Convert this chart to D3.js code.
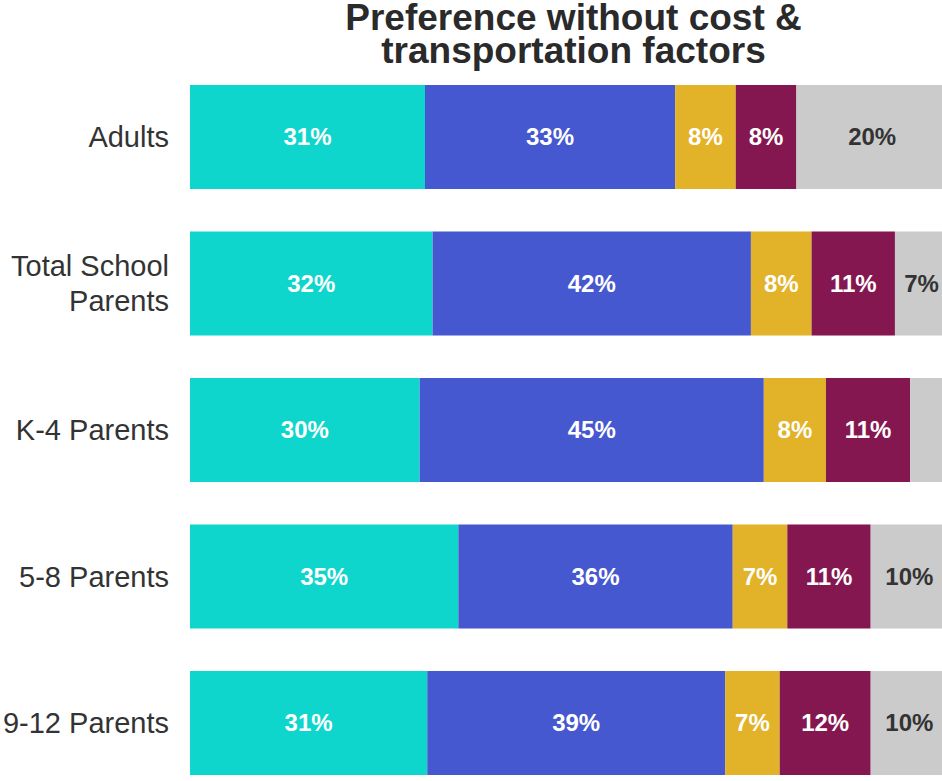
<!DOCTYPE html>
<html><head><meta charset="utf-8">
<script src="https://cdn.jsdelivr.net/npm/d3@7"></script>
<style>
html,body{margin:0;padding:0;background:#fff;overflow:hidden;}
svg{display:block;font-family:"Liberation Sans",Arial,sans-serif;}
</style></head>
<body>
<svg id="chart" width="942" height="781"></svg>
<script>
const categories = ["Adults", "Total School Parents", "K-4 Parents", "5-8 Parents", "9-12 Parents"];
const categoryLines = [["Adults"], ["Total School", "Parents"], ["K-4 Parents"], ["5-8 Parents"], ["9-12 Parents"]];
const seriesNames = ["s1", "s2", "s3", "s4", "s5"];
const seriesColors = ["#0fd6cc", "#4658cf", "#e2b228", "#84174f", "#cbcbcb"];
const labelColors = ["#ffffff", "#ffffff", "#ffffff", "#ffffff", "#333333"];
const s1 = [31, 32, 30.3, 35.4, 31.3];
const s2 = [33, 42, 45.4, 36.2, 39.3];
const s3 = [8, 8, 8.2, 7.2, 7.2];
const s4 = [8, 11, 11.1, 11.0, 12.0];
const s5 = [20, 7, 5, 10.2, 10.2];
const titleLines = ["Preference without cost &", "transportation factors"];

const svg = d3.select("#chart");
const rows = categories.map((c, i) => ({cat: c, s1: s1[i], s2: s2[i], s3: s3[i], s4: s4[i], s5: s5[i]}));
const stacked = d3.stack().keys(seriesNames)(rows);

const x = d3.scaleLinear().domain([0, 100]).range([190, 948]);
const y = d3.scaleBand().domain(categories).range([85, 775]).paddingInner(0.29).paddingOuter(0);

const layers = svg.append("g").selectAll("g").data(stacked).join("g")
  .attr("fill", (d, i) => seriesColors[i]);
layers.selectAll("rect").data(d => d).join("rect")
  .attr("x", d => x(d[0]))
  .attr("width", d => x(d[1]) - x(d[0]))
  .attr("y", d => y(d.data.cat))
  .attr("height", y.bandwidth());

stacked.forEach((layer, si) => {
  svg.append("g").selectAll("text").data(layer.filter(d => (d[1] - d[0]) >= 6)).join("text")
    .attr("x", d => (x(d[0]) + x(d[1])) / 2)
    .attr("y", d => y(d.data.cat) + y.bandwidth() / 2)
    .attr("dy", "0.35em")
    .attr("text-anchor", "middle")
    .attr("font-size", 24)
    .attr("font-weight", "bold")
    .attr("fill", labelColors[si])
    .text(d => Math.round(d[1] - d[0]) + "%");
});

// category axis labels
const yAxis = svg.append("g");
categories.forEach((c, i) => {
  const lines = categoryLines[i];
  const cy = y(c) + y.bandwidth() / 2;
  const t = yAxis.append("text")
    .attr("x", 169).attr("text-anchor", "end")
    .attr("font-size", 29).attr("fill", "#333333");
  lines.forEach((ln, j) => {
    t.append("tspan").attr("x", 169)
      .attr("y", cy + (j - (lines.length - 1) / 2) * 35)
      .attr("dy", "0.35em").text(ln);
  });
});

// title
const title = svg.append("text").attr("text-anchor", "middle")
  .attr("font-size", 37).attr("font-weight", "bold").attr("fill", "#2a2a2a");
titleLines.forEach((ln, j) => {
  title.append("tspan").attr("x", 573.5).attr("y", 29.5 + j * 33).text(ln);
});
</script>
</body></html>
